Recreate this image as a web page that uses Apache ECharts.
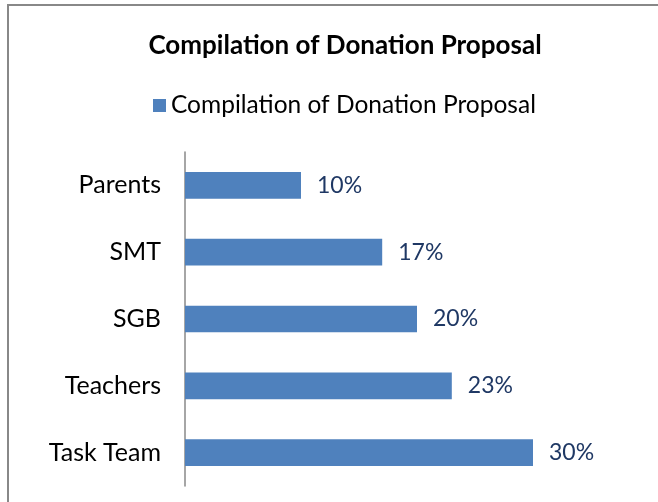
<!DOCTYPE html>
<html>
<head>
<meta charset="utf-8">
<script src="https://cdn.jsdelivr.net/npm/echarts@6/dist/echarts.min.js"></script>
<style>
  html, body { margin: 0; padding: 0; background: #fff; }
  #chart { width: 658px; height: 502px; }
</style>
</head>
<body>
<div id="chart"></div>
<script>
// data
const categories = ['Task Team', 'Teachers', 'SGB', 'SMT', 'Parents'];
const values = [30, 23, 20, 17, 10];
const seriesName = 'Compilation of Donation Proposal';

const myChart = echarts.init(document.getElementById('chart'));
const font = 'Lato, "Open Sans", sans-serif';

const option = {
  animation: false,
  backgroundColor: '#fff',
  title: {
    text: 'Compilation of Donation Proposal',
    left: 340,
    textAlign: 'center',
    top: 28,
    textStyle: {fontFamily: font, fontSize: 26, fontWeight: 'bold', color: '#000'}
  },
  legend: {
    left: 148,
    top: 88,
    itemWidth: 13,
    itemHeight: 13,
    itemGap: 8,
    icon: 'rect',
    textStyle: {fontFamily: font, fontSize: 24.5, color: '#000', padding: [0, 0, 0, 0]},
    data: [seriesName]
  },
  grid: {
    left: 185,
    right: 9,
    top: 152,
    bottom: 16,
    containLabel: false
  },
  xAxis: {
    type: 'value',
    min: 0,
    max: 40,
    show: false
  },
  yAxis: {
    type: 'category',
    data: categories,
    axisLine: {show: true, lineStyle: {color: '#888', width: 1.5}},
    axisTick: {show: false},
    axisLabel: {fontFamily: font, fontSize: 25, color: '#000', margin: 24}
  },
  graphic: [{
    type: 'rect',
    silent: true,
    shape: {x: 8, y: 5, width: 700, height: 600},
    style: {fill: 'none', stroke: '#888', lineWidth: 2}
  }],
  series: [{
    name: seriesName,
    type: 'bar',
    data: values,
    barWidth: '40%',
    itemStyle: {color: '#4F81BD'},
    label: {
      show: true,
      position: 'right',
      distance: 16,
      formatter: '{c}%',
      fontFamily: font,
      fontSize: 23,
      color: '#1F3864'
    }
  }]
};
myChart.setOption(option);
</script>
</body>
</html>
